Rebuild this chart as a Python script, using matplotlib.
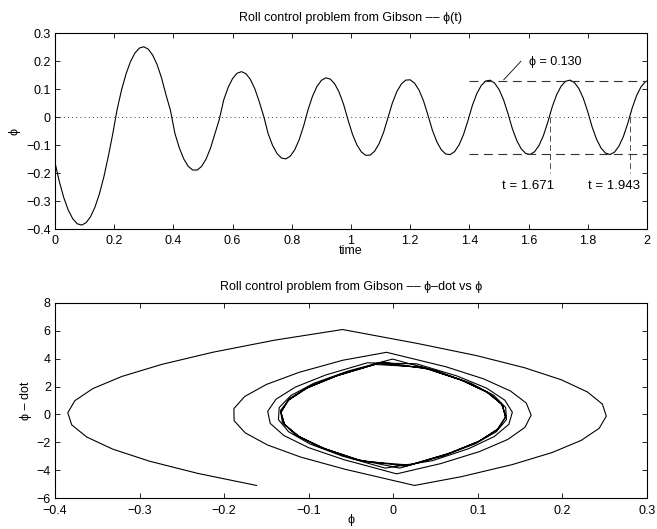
import numpy as np
import matplotlib
matplotlib.use("Agg")
import matplotlib.pyplot as plt
from matplotlib.ticker import FuncFormatter

plt.rcParams['font.family'] = ['Liberation Sans', 'DejaVu Sans']
plt.rcParams['font.size'] = 9

# ---- data: roll angle phi(t) and roll rate phi-dot(t), sampled every 0.015 s ----
dt = 0.015
phi = [
    -0.1617, -0.2314, -0.2881, -0.3318, -0.3625, -0.3802, -0.3849, -0.3765, -0.3552, -0.3209,
    -0.2735, -0.2132, -0.1399, -0.0600, 0.0287, 0.0984, 0.1551, 0.1988, 0.2295, 0.2472,
    0.2519, 0.2435, 0.2222, 0.1879, 0.1406, 0.0802, 0.0250, -0.0572, -0.1094, -0.1487,
    -0.1750, -0.1882, -0.1885, -0.1758, -0.1500, -0.1113, -0.0595, -0.0080, 0.0621, 0.1068,
    0.1385, 0.1573, 0.1630, 0.1557, 0.1354, 0.1021, 0.0558, 0.0040, -0.0582, -0.1003,
    -0.1294, -0.1455, -0.1485, -0.1386, -0.1157, -0.0797, -0.0308, 0.0274, 0.0752, 0.1101,
    0.1319, 0.1408, 0.1366, 0.1195, 0.0893, 0.0461, -0.0095, -0.0606, -0.0987, -0.1238,
    -0.1358, -0.1349, -0.1209, -0.0940, -0.0540, -0.0010, 0.0519, 0.0919, 0.1189, 0.1329,
    0.1338, 0.1218, 0.0967, 0.0587, 0.0076, -0.0464, -0.0876, -0.1159, -0.1311, -0.1333,
    -0.1225, -0.0987, -0.0619, -0.0121, 0.0424, 0.0845, 0.1135, 0.1295, 0.1325, 0.1225,
    0.0996, 0.0636, 0.0146, -0.0402, -0.0828, -0.1125, -0.1291, -0.1327, -0.1233, -0.1009,
    -0.0655, -0.0171, 0.0380, 0.0812, 0.1114, 0.1286, 0.1328, 0.1240, 0.1022, 0.0674,
    0.0195, -0.0357, -0.0795, -0.1103, -0.1281, -0.1329, -0.1247, -0.1034, -0.0692, -0.0220,
    0.0334, 0.0778, 0.1092, 0.1276, 0.1330,
]
phi_dot = [
    -5.081, -4.214, -3.347, -2.480, -1.613, -0.746, 0.121, 0.988, 1.855, 2.722,
    3.589, 4.456, 5.323, 6.080, 5.081, 4.214, 3.347, 2.480, 1.613, 0.746,
    -0.121, -0.988, -1.855, -2.722, -3.589, -4.456, -5.080, -3.919, -3.052, -2.185,
    -1.318, -0.451, 0.416, 1.283, 2.150, 3.017, 3.884, 4.450, 3.416, 2.549,
    1.682, 0.815, -0.052, -0.919, -1.786, -2.653, -3.520, -4.250, -3.239, -2.372,
    -1.505, -0.638, 0.229, 1.096, 1.963, 2.830, 3.697, 3.625, 2.758, 1.891,
    1.024, 0.157, -0.710, -1.577, -2.444, -3.311, -3.839, -2.972, -2.105, -1.238,
    -0.371, 0.497, 1.364, 2.231, 3.098, 3.965, 3.099, 2.232, 1.365, 0.498,
    -0.369, -1.236, -2.103, -2.970, -3.837, -3.182, -2.315, -1.448, -0.581, 0.286,
    1.153, 2.020, 2.887, 3.754, 3.236, 2.369, 1.502, 0.635, -0.232, -1.099,
    -1.966, -2.833, -3.700, -3.275, -2.408, -1.541, -0.674, 0.193, 1.060, 1.927,
    2.794, 3.661, 3.314, 2.447, 1.580, 0.713, -0.154, -1.021, -1.888, -2.755,
    -3.622, -3.354, -2.487, -1.620, -0.753, 0.114, 0.981, 1.848, 2.715, 3.582,
    3.393, 2.526, 1.659, 0.792, -0.075,
]
t = np.arange(len(phi)) * dt

phi_level = 0.130
t_cross = [1.671, 1.943]

title_top = "Roll control problem from Gibson \u2013\u2013 \u03d5(t)"
title_bot = "Roll control problem from Gibson \u2013\u2013 \u03d5\u2013dot vs \u03d5"

fig = plt.figure(figsize=(6.57, 5.29), dpi=100)

def fmt(v, pos):
    v = round(v, 6)
    if abs(v) < 1e-9:
        return "0"
    return ("%g" % v).replace("-", "\u2212")

def style(ax):
    ax.tick_params(direction='in', length=3.5, width=0.6, top=True, right=True,
                   labelsize=9)
    ax.tick_params(axis='x', pad=4)
    ax.tick_params(axis='y', pad=3)
    for sp in ax.spines.values():
        sp.set_linewidth(0.8)
    ax.xaxis.set_major_formatter(FuncFormatter(fmt))
    ax.yaxis.set_major_formatter(FuncFormatter(fmt))

# ---- top: phi(t) ----
ax1 = fig.add_axes([55/657, 1 - 229.3/529, 592/657, 196/529])
ax1.plot(t, phi, color='black', lw=0.8)
ax1.plot([0, 2], [0, 0], color='black', lw=0.6, linestyle=(0, (1, 4)))
ax1.plot([1.4, 2.0], [phi_level, phi_level], color='#333333', lw=0.8, linestyle=(0, (8, 5)))
ax1.plot([1.4, 2.0], [-phi_level, -phi_level], color='#333333', lw=0.8, linestyle=(0, (8, 5)))
for tc in t_cross:
    ax1.plot([tc, tc], [0, -0.2], color='#333333', lw=0.6, linestyle=(0, (7, 4)))
ax1.plot([1.516, 1.574], [0.134, 0.200], color='black', lw=0.6)
ax1.text(1.603, 0.199, "\u03d5 = %.3f" % phi_level, ha='left', va='center', fontsize=9)
ax1.text(1.510, -0.244, "t = %.3f" % t_cross[0], ha='left', va='center', fontsize=9.5)
ax1.text(1.801, -0.244, "t = %.3f" % t_cross[1], ha='left', va='center', fontsize=9.5)
ax1.set_xlim(0, 2)
ax1.set_ylim(-0.4, 0.3)
ax1.set_xticks(np.arange(0, 2.01, 0.2))
ax1.set_yticks(np.arange(-0.4, 0.31, 0.1))
style(ax1)
ax1.set_title(title_top, fontsize=9, pad=9)
ax1.set_xlabel("time", fontsize=9, labelpad=-1)
ax1.set_ylabel("\u03d5", fontsize=9, labelpad=4)

# ---- bottom: phase plane ----
ax2 = fig.add_axes([55/657, 1 - 498.3/529, 592/657, 195.6/529])
ax2.plot(phi, phi_dot, color='black', lw=0.8)
ax2.set_xlim(-0.4, 0.3)
ax2.set_ylim(-6, 8)
ax2.set_xticks(np.arange(-0.4, 0.31, 0.1))
ax2.set_yticks(np.arange(-6, 8.1, 2))
style(ax2)
ax2.tick_params(axis='x', pad=5)
ax2.set_title(title_bot, fontsize=9, pad=9)
ax2.set_xlabel("\u03d5", fontsize=9, labelpad=-2)
ax2.set_ylabel("\u03d5 \u2013 dot", fontsize=9, labelpad=3)

fig.savefig("out.png", dpi=100)
